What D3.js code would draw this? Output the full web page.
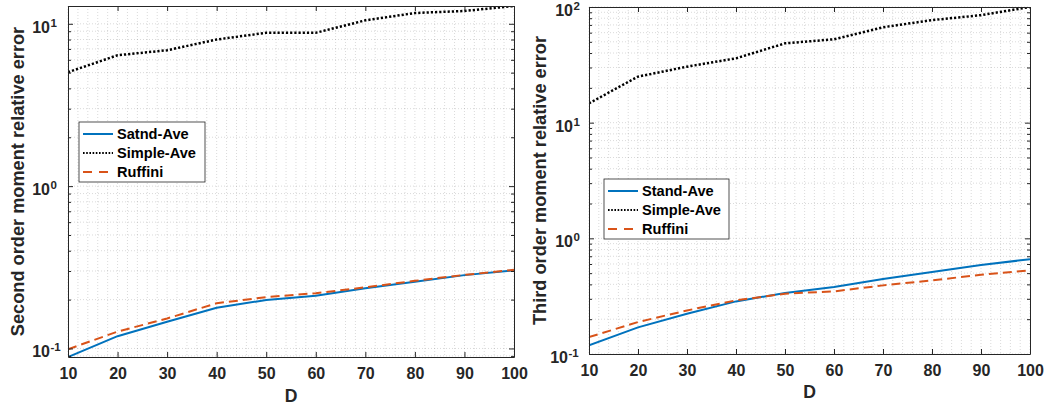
<!DOCTYPE html>
<html>
<head>
<meta charset="utf-8">
<script src="https://cdn.jsdelivr.net/npm/d3@7"></script>
<style>
  body { margin: 0; background: #fff; }
  svg { display: block; font-family: "Liberation Sans", Arial, sans-serif; font-weight: bold; }
</style>
</head>
<body>
<svg width="1046" height="407"></svg>
<script>
const svg = d3.select("svg");
const ink = "#262626";

// x values (dimension D)
const D = [10, 20, 30, 40, 50, 60, 70, 80, 90, 100];

// second order moment relative error
const secondStand   = [0.0886, 0.119, 0.146, 0.178, 0.199, 0.211, 0.235, 0.258, 0.283, 0.303];
const secondSimple  = [5.03, 6.4, 6.87, 8.0, 8.8, 8.8, 10.5, 11.65, 11.99, 12.87];
const secondRuffini = [0.0989, 0.127, 0.153, 0.19, 0.207, 0.219, 0.238, 0.261, 0.284, 0.305];

// third order moment relative error
const thirdStand   = [0.119, 0.17, 0.223, 0.285, 0.337, 0.379, 0.445, 0.512, 0.588, 0.66];
const thirdSimple  = [14.7, 25, 30.5, 36, 48.5, 52.6, 66.8, 77, 85, 100];
const thirdRuffini = [0.14, 0.189, 0.238, 0.291, 0.332, 0.348, 0.392, 0.433, 0.484, 0.528];

const xTicks = D;
const secondYTicks = [0.1, 1, 10];
const thirdYTicks = [0.1, 1, 10, 100];

const secondLegend = ["Satnd-Ave", "Simple-Ave", "Ruffini"];
const thirdLegend  = ["Stand-Ave", "Simple-Ave", "Ruffini"];

const styles = [
  { color: "#0072BD", width: 2, dash: null },
  { color: "#000000", width: 2.5, dash: "2.2,2" },
  { color: "#D95319", width: 2, dash: "9,5" }
];

let clipId = 0;

const drawPanel = p => {
  const x = d3.scaleLinear().domain([D[0], D[D.length - 1]]).range([p.left, p.right]);
  const y = d3.scaleLog().domain(p.yDomain).range([p.bottom, p.top]);
  const g = svg.append("g");

  // minor values
  const minorX = d3.range(D[0], D[D.length - 1] + 0.1, 2).filter(v => !xTicks.includes(v));
  const minorY = [];
  const eLo = Math.floor(Math.log10(p.yDomain[0]));
  const eHi = Math.ceil(Math.log10(p.yDomain[1]));
  for (let e = eLo; e < eHi; e++) {
    for (let k = 2; k <= 9; k++) {
      const v = k * Math.pow(10, e);
      if (v >= p.yDomain[0] && v <= p.yDomain[1]) minorY.push(v);
    }
  }

  // grid
  const grid = g.append("g")
    .attr("stroke", ink)
    .attr("stroke-opacity", 0.22)
    .attr("stroke-width", 0.8)
    .attr("stroke-dasharray", "1,2");
  grid.selectAll(".gx").data(xTicks.concat(minorX)).enter().append("line")
    .attr("x1", d => x(d)).attr("x2", d => x(d))
    .attr("y1", p.top).attr("y2", p.bottom);
  grid.selectAll(".gy").data(p.yTicks.concat(minorY)).enter().append("line")
    .attr("y1", d => y(d)).attr("y2", d => y(d))
    .attr("x1", p.left).attr("x2", p.right);

  // lines
  const id = "clip" + (clipId++);
  g.append("clipPath").attr("id", id).append("rect")
    .attr("x", p.left).attr("y", p.top)
    .attr("width", p.right - p.left).attr("height", p.bottom - p.top);

  const line = d3.line().x((d, i) => x(D[i])).y(d => y(d));
  const linesG = g.append("g").attr("clip-path", `url(#${id})`);
  p.series.forEach((s, i) => {
    linesG.append("path")
      .attr("d", line(s))
      .attr("fill", "none")
      .attr("stroke", styles[i].color)
      .attr("stroke-width", styles[i].width)
      .attr("stroke-dasharray", styles[i].dash);
  });

  // axes
  const styleAxis = a => {
    a.selectAll("path, line").attr("stroke", ink);
    a.selectAll("text").attr("fill", ink).attr("font-size", 16).attr("font-family", null);
  };

  g.append("g").attr("transform", `translate(0,${p.bottom})`)
    .call(d3.axisBottom(x).tickValues(xTicks).tickSizeInner(-5).tickSizeOuter(0).tickPadding(11).tickFormat(d3.format("d")))
    .call(styleAxis);
  g.append("g").attr("transform", `translate(0,${p.top})`)
    .call(d3.axisTop(x).tickValues(xTicks).tickSizeInner(-5).tickSizeOuter(0).tickFormat(""))
    .call(styleAxis);

  [[d3.axisLeft, p.left], [d3.axisRight, p.right]].forEach(([ax, pos]) => {
    g.append("g").attr("transform", `translate(${pos},0)`)
      .call(ax(y).tickValues(p.yTicks).tickSizeInner(-5).tickSizeOuter(0).tickFormat(""))
      .call(styleAxis);
    const mg = g.append("g").attr("transform", `translate(${pos},0)`)
      .call(ax(y).tickValues(minorY).tickSizeInner(-3).tickSizeOuter(0).tickFormat(""))
      .call(styleAxis);
    mg.select(".domain").remove();
  });

  // y tick labels with superscripts
  p.yTicks.forEach(v => {
    const e = Math.round(Math.log10(v));
    const xr = p.left - p.labelOff - (e < 0 ? p.negShift : 0);
    const ty = y(v);
    g.append("text").text("10")
      .attr("x", xr).attr("y", ty + 9)
      .attr("text-anchor", "end").attr("font-size", 16).attr("fill", ink);
    g.append("text").text(String(e))
      .attr("x", xr + 0.5).attr("y", ty + 3)
      .attr("font-size", 11.5).attr("fill", ink);
  });

  // axis labels
  g.append("text").text("D")
    .attr("x", (p.left + p.right) / 2).attr("y", p.dLabelY)
    .attr("text-anchor", "middle").attr("font-size", 17.6).attr("fill", ink);
  g.append("text").text(p.yLabel)
    .attr("transform", `translate(${p.yLabelX},${(p.top + p.bottom) / 2}) rotate(-90)`)
    .attr("text-anchor", "middle").attr("font-size", 18.2).attr("fill", ink);

  // legend
  const lg = g.append("g").attr("transform", `translate(${p.legend.x},${p.legend.y})`);
  lg.append("rect")
    .attr("width", p.legend.w).attr("height", p.legend.h)
    .attr("fill", "#fff").attr("stroke", ink).attr("stroke-width", 0.8);
  p.legendLabels.forEach((name, i) => {
    const ry = 12 + i * 19;
    lg.append("line")
      .attr("x1", 4).attr("x2", 34).attr("y1", ry).attr("y2", ry)
      .attr("stroke", styles[i].color)
      .attr("stroke-width", styles[i].width === 2.5 ? 2 : styles[i].width)
      .attr("stroke-dasharray", styles[i].dash === null ? null : (i === 1 ? "1.6,1.6" : "9,7"));
    lg.append("text").text(name)
      .attr("x", 38).attr("y", ry + 5)
      .attr("font-size", 14.6).attr("fill", "#000");
  });
};

const secondAll = secondStand.concat(secondSimple, secondRuffini);

drawPanel({
  left: 68, right: 514, top: 6, bottom: 357,
  yDomain: d3.extent(secondAll),
  yTicks: secondYTicks,
  series: [secondStand, secondSimple, secondRuffini],
  legendLabels: secondLegend,
  legend: { x: 79, y: 122, w: 126, h: 60 },
  yLabel: "Second order moment relative error",
  yLabelX: 24,
  dLabelY: 402,
  labelOff: 18, negShift: 0
});

drawPanel({
  left: 589, right: 1030, top: 7, bottom: 354,
  yDomain: [0.1, 100],
  yTicks: thirdYTicks,
  series: [thirdStand, thirdSimple, thirdRuffini],
  legendLabels: thirdLegend,
  legend: { x: 604, y: 179, w: 125, h: 60 },
  yLabel: "Third order moment relative error",
  yLabelX: 546,
  dLabelY: 398,
  labelOff: 16, negShift: 5
});
</script>
</body>
</html>
